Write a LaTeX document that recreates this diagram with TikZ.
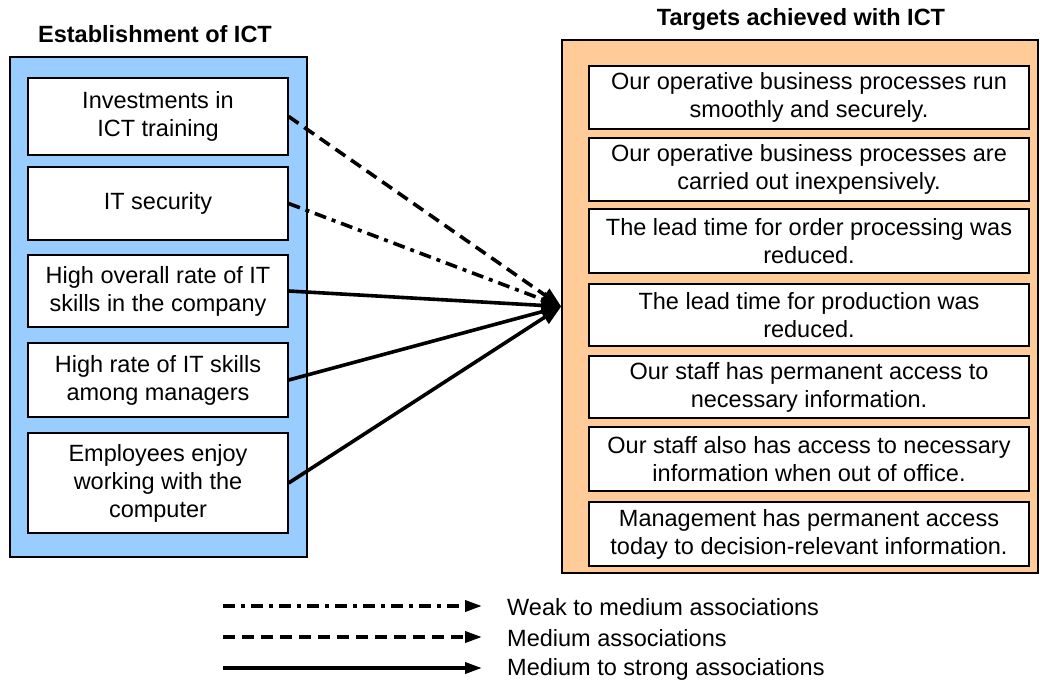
\documentclass[tikz,border=0pt]{standalone}
\usepackage{fontspec}
\setmainfont{Liberation Sans}
\usetikzlibrary{arrows.meta}
\definecolor{blueF}{HTML}{99CCFF}
\definecolor{peach}{HTML}{FFCC99}
\begin{document}
\begin{tikzpicture}[x=1pt,y=-1pt,
 font=\fontsize{23.5}{28}\selectfont,
 outer/.style={draw, line width=1.5pt, inner sep=0},
 inbox/.style={draw, fill=white, line width=1.3pt, align=center, inner sep=0},
 titletext/.style={font=\fontsize{23.5}{28}\selectfont\bfseries},
 conn/.style={line width=3.6pt, -{Triangle[length=20pt,width=15pt]}},
 legarrow/.style={line width=3.6pt, -{Triangle[length=17pt,width=11pt]}},
 dashpat/.style={dash pattern=on 12pt off 7pt},
 dashdotpat/.style={dash pattern=on 12pt off 6pt on 4pt off 6pt},
]
\useasboundingbox (0,0) rectangle (1040,686);
% outer boxes
\node[outer, fill=blueF, minimum width=297pt, minimum height=500pt] (L) at (158.5,307) {};
\node[outer, fill=peach, minimum width=476pt, minimum height=533pt] (R) at (800,306.5) {};
% titles
\node[titletext] (tl) at (155,34) {Establishment of ICT};
\node[titletext] (tr) at (801,19) {Targets achieved with ICT};
% left boxes
\node[inbox, minimum width=260pt, minimum height=77pt] (l1) at (158,116.5) {Investments in\\ICT training};
\node[inbox, minimum width=260pt, minimum height=73pt] (l2) at (158,203.5) {IT security};
\node[inbox, minimum width=260pt, minimum height=72pt] (l3) at (158,291) {High overall rate of IT\\skills in the company};
\node[inbox, minimum width=260pt, minimum height=74pt] (l4) at (158,380) {High rate of IT skills\\among managers};
\node[inbox, minimum width=260pt, minimum height=100pt] (l5) at (158,483) {Employees enjoy\\working with the\\computer};
% right boxes
\node[inbox, minimum width=440pt, minimum height=63pt] (r1) at (809,97.5) {Our operative business processes run\\smoothly and securely.};
\node[inbox, minimum width=440pt, minimum height=63pt] (r2) at (809,169.5) {Our operative business processes are\\carried out inexpensively.};
\node[inbox, minimum width=440pt, minimum height=64pt] (r3) at (809,241) {The lead time for order processing was\\reduced.};
\node[inbox, minimum width=440pt, minimum height=62pt] (r4) at (809,315) {The lead time for production was\\reduced.};
\node[inbox, minimum width=440pt, minimum height=62pt] (r5) at (809,387) {Our staff has permanent access to\\necessary information.};
\node[inbox, minimum width=440pt, minimum height=64pt] (r6) at (809,459) {Our staff also has access to necessary\\information when out of office.};
\node[inbox, minimum width=440pt, minimum height=64pt] (r7) at (809,534) {Management has permanent access\\today to decision-relevant information.};
% connectors
\draw[conn, dashpat] (l1.east) -- (R.west);
\draw[conn, dashdotpat] (l2.east) -- (R.west);
\draw[conn] (l3.east) -- (R.west);
\draw[conn] (l4.east) -- (R.west);
\draw[conn] (l5.east) -- (R.west);
% legend
\coordinate (a1) at (223,606); \coordinate (b1) at (482,606);
\coordinate (a2) at (223,637); \coordinate (b2) at (482,637);
\coordinate (a3) at (223,668); \coordinate (b3) at (482,668);
\draw[legarrow, dashdotpat] (a1) -- (b1);
\draw[legarrow, dashpat] (a2) -- (b2);
\draw[legarrow] (a3) -- (b3);
\node[anchor=west, inner sep=0] (t1) at (507,607) {Weak to medium associations};
\node[anchor=west, inner sep=0] (t2) at (507,638) {Medium associations};
\node[anchor=west, inner sep=0] (t3) at (507,669) {Medium to strong associations};
\end{tikzpicture}
\end{document}
